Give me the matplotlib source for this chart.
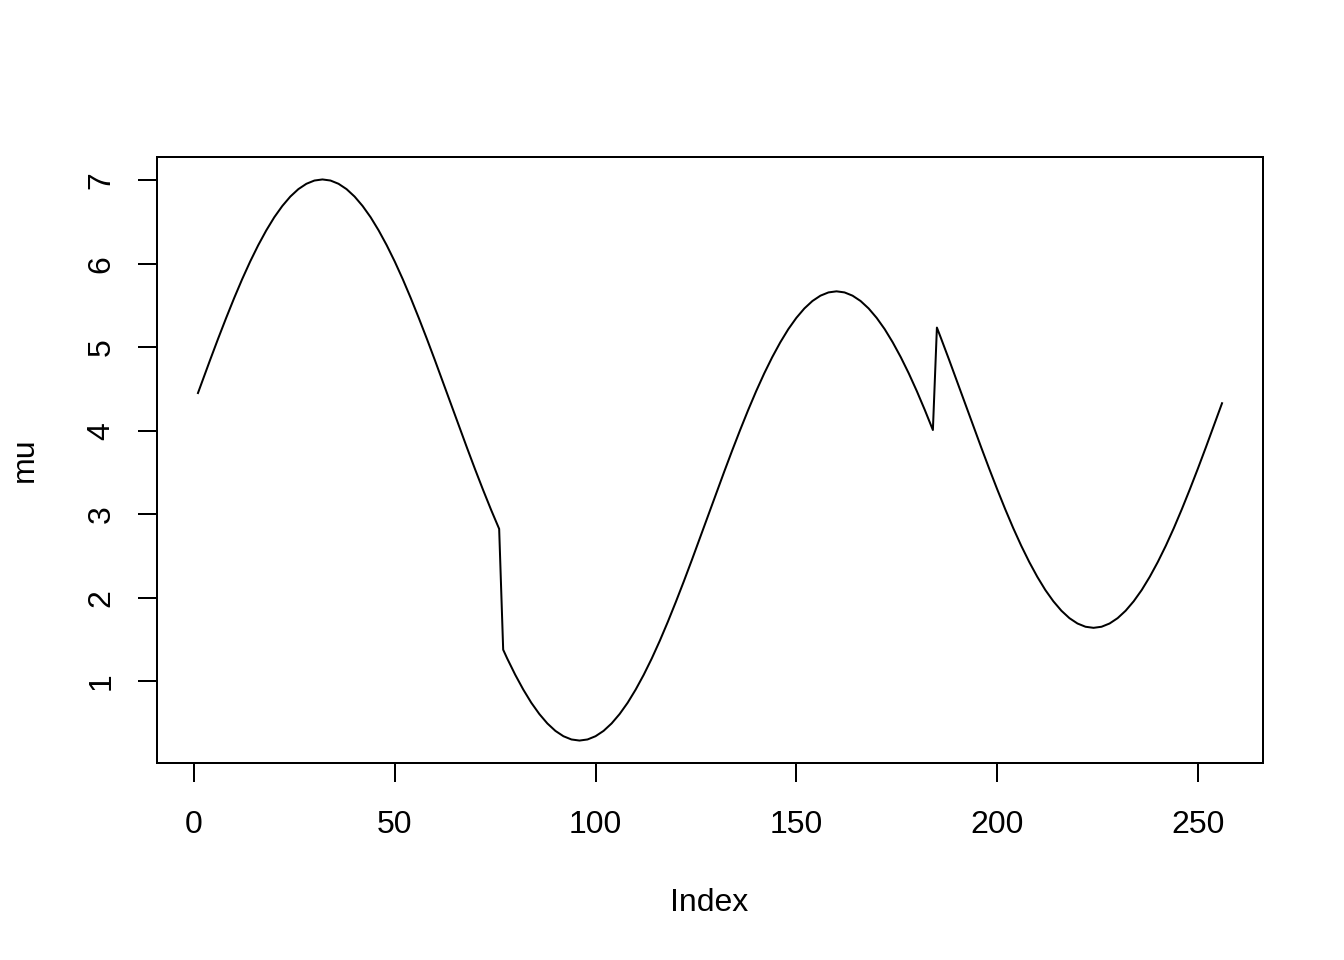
import matplotlib
matplotlib.use("Agg")
import matplotlib.pyplot as plt

plt.rcParams['font.family'] = ['Liberation Sans', 'DejaVu Sans']

# Values (every 2nd index plus breakpoints)
idx_seg1 = [1, 2, 4, 6, 8, 10, 12, 14, 16, 18, 20, 22, 24, 26, 28, 30, 32, 34, 36, 38,
            40, 42, 44, 46, 48, 50, 52, 54, 56, 58, 60, 62, 64, 66, 68, 70, 72, 74, 76]
mu_seg1 = [4.452, 4.584, 4.845, 5.101, 5.349, 5.588, 5.815, 6.027, 6.222, 6.399,
           6.557, 6.692, 6.805, 6.894, 6.958, 6.997, 7.010, 6.997, 6.958, 6.894,
           6.805, 6.692, 6.557, 6.399, 6.222, 6.027, 5.815, 5.588, 5.349, 5.101,
           4.845, 4.584, 4.320, 4.056, 3.795, 3.539, 3.291, 3.052, 2.825]

idx_seg2 = [77, 78, 80, 82, 84, 86, 88, 90, 92, 94, 96, 98, 100, 102, 104, 106, 108,
            110, 112, 114, 116, 118, 120, 122, 124, 126, 128, 130, 132, 134, 136, 138,
            140, 142, 144, 146, 148, 150, 152, 154, 156, 158, 160, 162, 164, 166, 168,
            170, 172, 174, 176, 178, 180, 182, 184]
mu_seg2 = [1.378, 1.273, 1.078, 0.901, 0.743, 0.608, 0.495, 0.406, 0.342, 0.303,
           0.290, 0.303, 0.342, 0.406, 0.495, 0.608, 0.743, 0.901, 1.078, 1.273,
           1.485, 1.712, 1.951, 2.199, 2.455, 2.716, 2.980, 3.244, 3.505, 3.761,
           4.009, 4.248, 4.475, 4.687, 4.882, 5.059, 5.217, 5.352, 5.465, 5.554,
           5.618, 5.657, 5.670, 5.657, 5.618, 5.554, 5.465, 5.352, 5.217, 5.059,
           4.882, 4.687, 4.475, 4.248, 4.009]

idx_seg3 = [185, 186, 188, 190, 192, 194, 196, 198, 200, 202, 204, 206, 208, 210, 212,
            214, 216, 218, 220, 222, 224, 226, 228, 230, 232, 234, 236, 238, 240, 242,
            244, 246, 248, 250, 252, 254, 256]
mu_seg3 = [5.236, 5.111, 4.855, 4.594, 4.330, 4.066, 3.805, 3.549, 3.301, 3.062,
           2.835, 2.623, 2.428, 2.251, 2.093, 1.958, 1.845, 1.756, 1.692, 1.653,
           1.640, 1.653, 1.692, 1.756, 1.845, 1.958, 2.093, 2.251, 2.428, 2.623,
           2.835, 3.062, 3.301, 3.549, 3.805, 4.066, 4.330]

x_ticks = [0, 50, 100, 150, 200, 250]
y_ticks = [1, 2, 3, 4, 5, 6, 7]

index = idx_seg1 + idx_seg2 + idx_seg3
mu = mu_seg1 + mu_seg2 + mu_seg3

fig = plt.figure(figsize=(7, 5), dpi=192)
ax = fig.add_axes([157/1344, 1 - 763/960, (1263-157)/1344, (763-157)/960])
ax.plot(index, mu, color='black', linewidth=0.75)

xmin, xmax = min(index), max(index)
ymin, ymax = min(mu), max(mu)
px = 0.04 * (xmax - xmin)
py = 0.04 * (ymax - ymin)
ax.set_xlim(xmin - px, xmax + px)
ax.set_ylim(ymin - py, ymax + py)

ax.set_xticks(x_ticks)
ax.set_yticks(y_ticks)
ax.tick_params(direction='out', length=7.2, width=0.75, labelsize=12, color='black')
ax.tick_params(axis='x', pad=10.5)
ax.tick_params(axis='y', pad=8, labelrotation=90)
for lab in ax.get_yticklabels():
    lab.set_va('center')
for s in ax.spines.values():
    s.set_linewidth(0.75)

ax.set_xlabel('Index', fontsize=12)
ax.set_ylabel('mu', fontsize=12)
ax.xaxis.set_label_coords((709-157)/1106, (763-903)/606)
ax.xaxis.label.set_va('center')
ax.yaxis.set_label_coords((25-157)/1106, 0.5)
ax.yaxis.label.set_va('center')

fig.savefig('out.png', dpi=192)
